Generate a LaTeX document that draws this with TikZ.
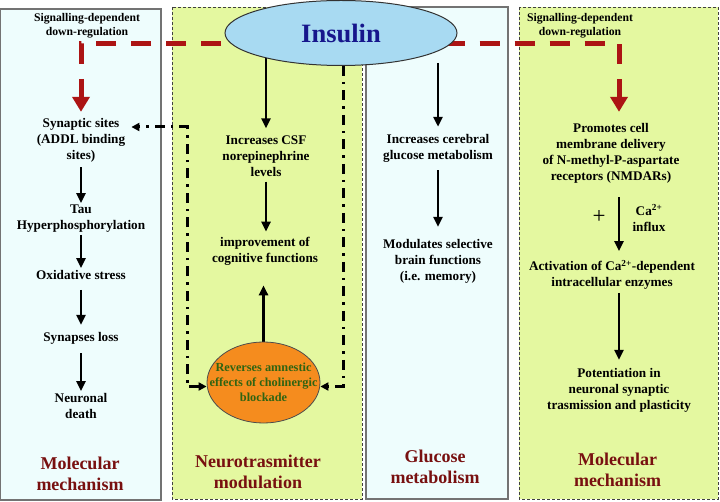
\documentclass[tikz,border=0pt]{standalone}
\usepackage{fontspec}
\setmainfont{Liberation Serif}
\usetikzlibrary{arrows.meta,shapes.geometric}
\pgfdeclarelayer{back}
\pgfdeclarelayer{mid}
\pgfsetlayers{back,mid,main}
\definecolor{cyanbg}{RGB}{238,253,253}
\definecolor{limebg}{RGB}{228,248,160}
\definecolor{insblue}{RGB}{168,218,242}
\definecolor{instext}{RGB}{22,22,140}
\definecolor{orangefill}{RGB}{245,140,30}
\definecolor{greentext}{RGB}{48,100,18}
\definecolor{titlered}{RGB}{120,16,16}
\definecolor{darkred}{RGB}{172,20,20}
\begin{document}
\begin{tikzpicture}[x=1pt,y=-1pt,
  txt/.style={font=\bfseries\fontsize{13.2}{16}\selectfont, align=center, inner sep=2pt},
  smalltxt/.style={font=\bfseries\fontsize{11.7}{14}\selectfont, align=center, inner sep=1pt},
  titletxt/.style={font=\bfseries\fontsize{18}{21}\selectfont, align=center, text=titlered},
  cyanpanel/.style={fill=cyanbg, draw=black!55, line width=1.2pt},
  limepanel/.style={fill=limebg, draw=black!75, line width=0.7pt, dash pattern=on 3pt off 2pt},
  arr/.style={-{Triangle[length=10pt,width=9pt]}, line width=2.6pt},
  redarr/.style={-{Triangle[length=15pt,width=17pt]}, line width=5pt, draw=darkred, dash pattern=on 20pt off 15pt},
  dd/.style={line width=3pt, dash pattern=on 10pt off 6pt on 2.5pt off 6pt},
  ddtip/.tip={Triangle[length=8pt,width=8pt]}
]
\useasboundingbox (0,0) rectangle (720,502);
\begin{pgfonlayer}{back}
  \fill[white] (0,0) rectangle (720,502);
  \draw[cyanpanel] (0.6,9) rectangle (161,500);
  \draw[limepanel] (172,7) rectangle (362,499);
  \draw[cyanpanel] (366,7) rectangle (508,499);
  \draw[limepanel] (519,7) rectangle (718,499);
\end{pgfonlayer}

% Insulin
\node[ellipse, fill=insblue, draw=black!80, line width=1pt, minimum width=232pt, minimum height=65pt, inner sep=0pt,
      font=\bfseries\fontsize{26.5}{30}\selectfont, text=instext] (ins) at (341,33) {Insulin};

% Left panel
\node[smalltxt] (sig1) at (87,26) {Signalling-dependent\\down-regulation};
\node[txt] (syn) at (81,140) {Synaptic sites\\(ADDL binding\\sites)};
\node[txt] (tau) at (81,219) {Tau\\Hyperphosphorylation};
\node[txt] (oxi) at (81,275) {Oxidative stress};
\node[txt] (los) at (81,338) {Synapses loss};
\node[txt] (neu) at (81,406) {Neuronal\\death};
\node[titletxt] (t1) at (80,473.5) {Molecular\\mechanism};

% Neurotransmitter panel
\node[txt] (csf) at (266,156) {Increases CSF\\norepinephrine\\levels};
\node[txt] (cog) at (265,251) {improvement of\\cognitive functions};
\node[ellipse, fill=orangefill, draw=black!70, line width=0.8pt, minimum width=113pt, minimum height=81pt, inner sep=0pt] (rev) at (263.5,382.5) {};
\node[font=\bfseries\fontsize{12.3}{15}\selectfont, align=center, text=greentext, inner sep=0pt] (revt) at (rev.center) {Reverses amnestic\\effects of cholinergic\\blockade};
\node[titletxt] (t2) at (258,471.5) {Neurotrasmitter\\modulation};

% Glucose panel
\node[txt] (cer) at (438,148) {Increases cerebral\\glucose metabolism};
\node[txt] (mod) at (438,261) {Modulates selective\\brain functions\\(i.e. memory)};
\node[titletxt] (t3) at (435,466.5) {Glucose\\metabolism};

% Right panel
\node[smalltxt] (sig2) at (580,26) {Signalling-dependent\\down-regulation};
\node[font=\fontsize{23}{23}\selectfont, inner sep=0pt] (plus) at (599,217) {+};
\node[txt] (ca) at (649,218) {Ca\textsuperscript{2+}\\influx};
\node[txt] (prom) at (611,153) {Promotes cell\\membrane delivery\\of N-methyl-P-aspartate\\receptors (NMDARs)};
\node[txt] (act) at (612,275) {Activation of Ca\textsuperscript{2+}-dependent\\intracellular enzymes};
\node[txt] (pot) at (619,390) {Potentiation in\\neuronal synaptic\\trasmission and plasticity};
\node[titletxt] (t4) at (617.5,469.5) {Molecular\\mechanism};

\coordinate (lc) at (187,127);

\begin{pgfonlayer}{mid}
  % red signalling paths
  \draw[redarr, dash phase=20pt, shorten >=4pt] ([yshift=-11pt]ins.center) -| (syn.north);
  \draw[redarr, dash phase=1.5pt, shorten >=9pt] ([yshift=-11pt]ins.center) -| ([xshift=8pt]prom.north);
  % left column
  \draw[arr, shorten <=3pt] (syn.south) -- (tau.north);
  \draw[arr] (tau.south) -- (oxi.north);
  \draw[arr, shorten <=8pt, shorten >=5pt] (oxi.south) -- (los.north);
  \draw[arr, shorten <=7pt] (los.south) -- (neu.north);
  % neurotransmitter column
  \draw[arr, shorten >=5pt] (csf.north |- ins.center) -- (csf.north);
  \draw[arr, shorten <=3pt, shorten >=3pt] (csf.south) -- (csf.south |- cog.north);
  \draw[arr, shorten <=-1pt, shorten >=18pt] (rev.north) -- (rev.north |- cog.south);
  % dash-dot connectors
  \draw[dd, ddtip-ddtip, shorten >=4pt] ([yshift=-4pt]rev.west) -| (lc) -- (syn.east |- lc);
  \draw[dd, -ddtip] ([xshift=2pt]ins.south) |- ([yshift=-4pt]rev.east);
  % glucose column
  \draw[arr, shorten <=-3pt, shorten >=5pt] (cer.north |- ins.south) -- (cer.north);
  \draw[arr, shorten <=6pt, shorten >=10pt] (cer.south) -- (cer.south |- mod.north);
  % right column
  \draw[arr, shorten <=12pt, shorten >=7pt] ([xshift=8pt]prom.south) -- ([xshift=7pt]act.north);
  \draw[arr, shorten <=1pt, shorten >=6pt] ([xshift=7pt]act.south) -- (pot.north);
\end{pgfonlayer}
\end{tikzpicture}
\end{document}
